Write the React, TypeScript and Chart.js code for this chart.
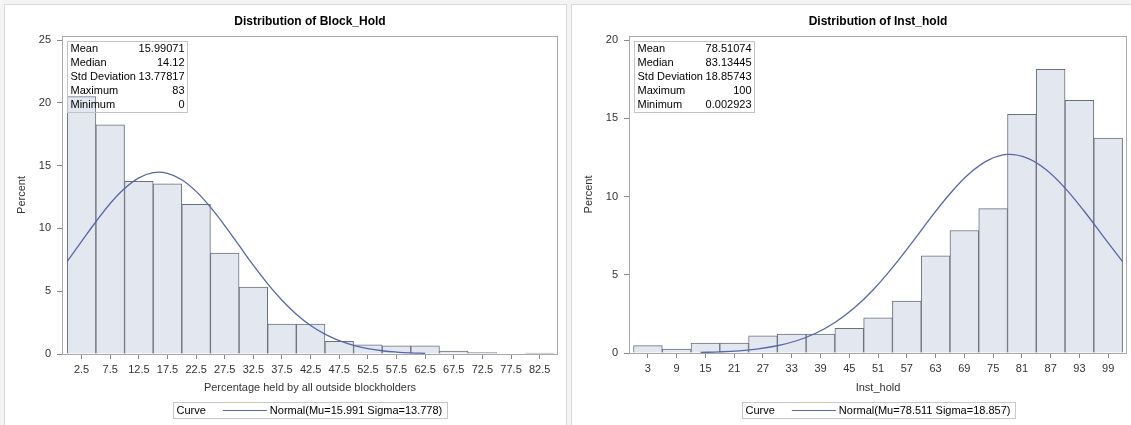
import React, { useEffect, useRef } from 'react';
import { Chart, registerables } from 'chart.js';

Chart.register(...registerables);

// ---------- Data: Block_Hold ----------
const blockTitle = 'Distribution of Block_Hold';
const blockXLabel = 'Percentage held by all outside blockholders';
const blockBinCenters = [2.5, 7.5, 12.5, 17.5, 22.5, 27.5, 32.5, 37.5, 42.5, 47.5, 52.5, 57.5, 62.5, 67.5, 72.5, 77.5, 82.5];
const blockPercent = [20.5, 18.25, 13.75, 13.54, 11.92, 8.04, 5.32, 2.39, 2.39, 1.01, 0.73, 0.66, 0.66, 0.24, 0.12, 0, 0.07];
const blockCurveX = [0, 2.5, 5, 7.5, 10, 12.5, 15, 17.5, 20, 22.5, 25, 27.5, 30, 32.5, 35, 37.5, 40, 42.5, 45, 47.5, 50, 52.5, 55, 57.5, 60, 62.5];
const blockCurveY = [7.38, 8.97, 10.53, 11.98, 13.17, 14.02, 14.44, 14.39, 13.88, 12.95, 11.69, 10.22, 8.64, 7.06, 5.59, 4.28, 3.17, 2.27, 1.58, 1.06, 0.69, 0.43, 0.26, 0.155, 0.088, 0.049];
const blockXTicks = [2.5, 7.5, 12.5, 17.5, 22.5, 27.5, 32.5, 37.5, 42.5, 47.5, 52.5, 57.5, 62.5, 67.5, 72.5, 77.5, 82.5];
const blockXTickLabels = ['2.5', '7.5', '12.5', '17.5', '22.5', '27.5', '32.5', '37.5', '42.5', '47.5', '52.5', '57.5', '62.5', '67.5', '72.5', '77.5', '82.5'];
const blockYTicks = [0, 5, 10, 15, 20, 25];
const blockStatValues = ['15.99071', '14.12', '13.77817', '83', '0'];
const blockCurveLabel = 'Normal(Mu=15.991 Sigma=13.778)';

// ---------- Data: Inst_hold ----------
const instTitle = 'Distribution of Inst_hold';
const instXLabel = 'Inst_hold';
const instBinCenters = [3, 9, 15, 21, 27, 33, 39, 45, 51, 57, 63, 69, 75, 81, 87, 93, 99];
const instPercent = [0.47, 0.25, 0.64, 0.64, 1.1, 1.21, 1.21, 1.57, 2.25, 3.32, 6.21, 7.83, 9.23, 15.26, 18.13, 16.15, 13.74];
const instCurveX = [14, 18, 22, 26, 30, 34, 38, 42, 46, 50, 54, 58, 62, 66, 70, 74, 78, 82, 86, 90, 94, 98, 102];
const instCurveY = [0.036, 0.074, 0.142, 0.263, 0.464, 0.783, 1.263, 1.947, 2.87, 4.046, 5.453, 7.024, 8.65, 10.18, 11.46, 12.33, 12.69, 12.47, 11.73, 10.54, 9.06, 7.44, 5.84];
const instXTicks = [3, 9, 15, 21, 27, 33, 39, 45, 51, 57, 63, 69, 75, 81, 87, 93, 99];
const instXTickLabels = ['3', '9', '15', '21', '27', '33', '39', '45', '51', '57', '63', '69', '75', '81', '87', '93', '99'];
const instYTicks = [0, 5, 10, 15, 20];
const instStatValues = ['78.51074', '83.13445', '18.85743', '100', '0.002923'];
const instCurveLabel = 'Normal(Mu=78.511 Sigma=18.857)';

const statLabels = ['Mean', 'Median', 'Std Deviation', 'Maximum', 'Minimum'];
const legendTitle = 'Curve';
const yLabel = 'Percent';

// ---------- Styles ----------
const FONT = "'Liberation Sans', Arial, Helvetica, sans-serif";
const BAR_FILL = '#e3e7f0';
const BAR_EDGE = '#6c707c';
const CURVE = '#5767a8';
const FRAME = '#a9a9a9';
const TICK = '#8a8a8a';
const TEXT = '#333333';

type Spec = {
  title: string;
  xLabel: string;
  centers: number[];
  percent: number[];
  curveX: number[];
  curveY: number[];
  xTicks: number[];
  xTickLabels: string[];
  yTicks: number[];
  statValues: string[];
  curveLabel: string;
  xMin: number;
  xMax: number;
  yMax: number;
  width: number;
  yWidth: number;
  padRight: number;
  xHeight: number;
};

const overlayPlugin = (spec: Spec) => ({
  id: 'overlay',
  afterDraw(chart: any) {
    const { ctx, chartArea } = chart;
    const ca = chartArea;
    ctx.save();
    // frame
    ctx.strokeStyle = FRAME;
    ctx.lineWidth = 1;
    ctx.strokeRect(Math.round(ca.left) + 0.5, Math.round(ca.top) + 0.5, Math.round(ca.right - ca.left) - 1, Math.round(ca.bottom - ca.top));
    // title
    const cx = (ca.left + ca.right) / 2;
    ctx.fillStyle = '#000';
    ctx.font = `bold 12px ${FONT}`;
    ctx.textAlign = 'center';
    ctx.textBaseline = 'middle';
    ctx.fillText(spec.title, cx, 22);
    // stats inset
    ctx.font = `11px ${FONT}`;
    let lw = 0;
    let vw = 0;
    statLabels.forEach((l) => (lw = Math.max(lw, ctx.measureText(l).width)));
    spec.statValues.forEach((v) => (vw = Math.max(vw, ctx.measureText(v).width)));
    const bx = Math.round(ca.left) + 5.5;
    const by = Math.round(ca.top) + 5.5;
    const bw = Math.round(3 + lw + 3 + vw + 3);
    const bh = 71;
    ctx.strokeStyle = '#c4c4c4';
    ctx.strokeRect(bx, by, bw, bh);
    ctx.fillStyle = '#000';
    ctx.textBaseline = 'middle';
    statLabels.forEach((l, i) => {
      const y = by + 7.5 + i * 14;
      ctx.textAlign = 'left';
      ctx.fillText(l, bx + 3, y);
      ctx.textAlign = 'right';
      ctx.fillText(spec.statValues[i], bx + bw - 3, y);
    });
    // legend
    const tW = ctx.measureText(legendTitle).width;
    const lW = ctx.measureText(spec.curveLabel).width;
    const lineLen = 44;
    const legW = Math.round(3 + tW + 17 + lineLen + 3 + lW + 5);
    const legX = Math.round(cx - legW / 2) + 0.5;
    const legY = 402.5;
    const legH = 16;
    ctx.strokeStyle = '#c8c8c8';
    ctx.strokeRect(legX, legY, legW, legH);
    ctx.fillStyle = '#000';
    ctx.textAlign = 'left';
    const ty = legY + legH / 2;
    ctx.fillText(legendTitle, legX + 3, ty);
    const lx = legX + 3 + tW + 17;
    ctx.strokeStyle = CURVE;
    ctx.lineWidth = 1.2;
    ctx.beginPath();
    ctx.moveTo(lx, ty);
    ctx.lineTo(lx + lineLen, ty);
    ctx.stroke();
    ctx.fillText(spec.curveLabel, lx + lineLen + 3, ty);
    ctx.restore();
  },
});

function buildConfig(spec: Spec): any {
  const zeroPad = (s: any) => {
    s.paddingLeft = 0;
    s.paddingRight = 0;
    s.paddingTop = 0;
    s.paddingBottom = 0;
  };
  return {
    type: 'bar',
    data: {
      datasets: [
        {
          type: 'line',
          data: spec.curveX.map((x, i) => ({ x, y: spec.curveY[i] })),
          borderColor: CURVE,
          borderWidth: 1.3,
          pointRadius: 0,
          fill: false,
          tension: 0.4,
          order: 0,
        },
        {
          type: 'bar',
          data: spec.centers.map((x, i) => ({ x, y: spec.percent[i] })),
          backgroundColor: BAR_FILL,
          borderColor: BAR_EDGE,
          borderWidth: 1,
          barPercentage: 1,
          categoryPercentage: 1,
          order: 1,
        },
      ],
    },
    options: {
      animation: false,
      responsive: false,
      devicePixelRatio: 1,
      layout: { padding: { top: 36, right: spec.padRight, left: 0, bottom: 0 } },
      plugins: {
        legend: { display: false },
        tooltip: { enabled: false },
        title: { display: false },
      },
      scales: {
        x: {
          type: 'linear',
          min: spec.xMin,
          max: spec.xMax,
          offset: false,
          afterBuildTicks: (s: any) => {
            s.ticks = spec.xTicks.map((v) => ({ value: v }));
          },
          afterFit: (s: any) => {
            s.height = spec.xHeight;
            zeroPad(s);
          },
          ticks: {
            autoSkip: false,
            maxRotation: 0,
            padding: 4,
            color: TEXT,
            font: { family: FONT, size: 11 },
            callback: (_v: any, i: number) => spec.xTickLabels[i],
          },
          grid: { drawOnChartArea: false, offset: false, tickLength: 5, color: TICK },
          border: { display: false },
          title: {
            display: true,
            text: spec.xLabel,
            color: TEXT,
            font: { family: FONT, size: 11 },
            padding: { top: 0, bottom: 30 },
          },
        },
        y: {
          type: 'linear',
          min: 0,
          max: spec.yMax,
          afterBuildTicks: (s: any) => {
            s.ticks = spec.yTicks.map((v) => ({ value: v }));
          },
          afterFit: (s: any) => {
            s.width = spec.yWidth;
            zeroPad(s);
          },
          ticks: {
            padding: 6,
            color: TEXT,
            font: { family: FONT, size: 11 },
            callback: (v: any) => String(v),
          },
          grid: { drawOnChartArea: false, tickLength: 5, color: TICK },
          border: { display: false },
          title: {
            display: true,
            text: yLabel,
            color: TEXT,
            font: { family: FONT, size: 11 },
            padding: { top: spec.yWidth - 40 - 6.6, bottom: 0 },
          },
        },
      },
    },
    plugins: [overlayPlugin(spec)],
  };
}

const leftSpec: Spec = {
  title: blockTitle,
  xLabel: blockXLabel,
  centers: blockBinCenters,
  percent: blockPercent,
  curveX: blockCurveX,
  curveY: blockCurveY,
  xTicks: blockXTicks,
  xTickLabels: blockXTickLabels,
  yTicks: blockYTicks,
  statValues: blockStatValues,
  curveLabel: blockCurveLabel,
  xMin: -0.92,
  xMax: 85.7,
  yMax: 25.32,
  width: 568,
  yWidth: 62,
  padRight: 10,
  xHeight: 71,
};

const rightSpec: Spec = {
  title: instTitle,
  xLabel: instXLabel,
  centers: instBinCenters,
  percent: instPercent,
  curveX: instCurveX,
  curveY: instCurveY,
  xTicks: instXTicks,
  xTickLabels: instXTickLabels,
  yTicks: instYTicks,
  statValues: instStatValues,
  curveLabel: instCurveLabel,
  xMin: -0.94,
  xMax: 102.92,
  yMax: 20.26,
  width: 561,
  yWidth: 59,
  padRight: 4,
  xHeight: 72,
};

function Hist({ spec, left }: { spec: Spec; left: number }) {
  const ref = useRef<HTMLCanvasElement | null>(null);
  useEffect(() => {
    if (!ref.current) return;
    const chart = new Chart(ref.current, buildConfig(spec));
    return () => chart.destroy();
  }, [spec]);
  return (
    <canvas
      ref={ref}
      width={spec.width}
      height={425}
      style={{ position: 'absolute', left, top: 0, width: spec.width, height: 425, display: 'block' }}
    />
  );
}

export default function App() {
  return (
    <div
      style={{
        position: 'fixed',
        left: 0,
        top: 0,
        width: 1131,
        height: 425,
        background: '#f4f4f4',
        overflow: 'hidden',
      }}
    >
      <div
        style={{
          position: 'absolute',
          left: 4,
          top: 4,
          width: 561,
          height: 440,
          background: '#fff',
          border: '1px solid #d9d9d9',
        }}
      />
      <div
        style={{
          position: 'absolute',
          left: 571,
          top: 4,
          width: 580,
          height: 440,
          background: '#fff',
          border: '1px solid #d9d9d9',
        }}
      />
      <Hist spec={leftSpec} left={0} />
      <Hist spec={rightSpec} left={570} />
    </div>
  );
}
